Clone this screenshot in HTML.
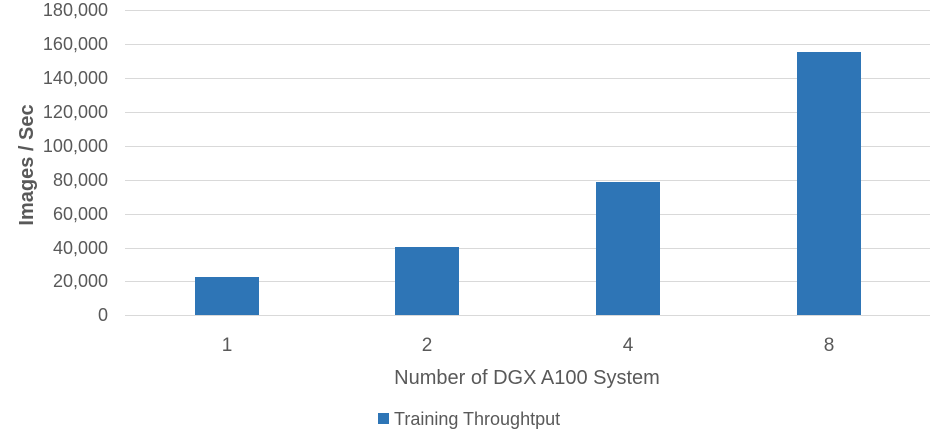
<!DOCTYPE html>
<html><head><style>body{margin:0;background:#fff}</style></head><body>
<svg width="936" height="440" xmlns="http://www.w3.org/2000/svg" font-family="'Liberation Sans', sans-serif" fill="#595959">
<g stroke="#d9d9d9" stroke-width="1">
<line x1="125" x2="930" y1="10.5" y2="10.5"/><line x1="125" x2="930" y1="44.5" y2="44.5"/>
<line x1="125" x2="930" y1="78.5" y2="78.5"/><line x1="125" x2="930" y1="112.5" y2="112.5"/>
<line x1="125" x2="930" y1="146.5" y2="146.5"/><line x1="125" x2="930" y1="180.5" y2="180.5"/>
<line x1="125" x2="930" y1="214.5" y2="214.5"/><line x1="125" x2="930" y1="248.5" y2="248.5"/>
<line x1="125" x2="930" y1="281.5" y2="281.5"/><line x1="125" x2="930" y1="315.5" y2="315.5"/>
</g>
<g fill="#2e75b6">
<rect x="195" y="277" width="64" height="38"/>
<rect x="395" y="247" width="64" height="68"/>
<rect x="596" y="182" width="64" height="133"/>
<rect x="797" y="52" width="64" height="263"/>
</g>
<g font-size="18" text-anchor="end">
<text x="108" y="16">180,000</text><text x="108" y="50">160,000</text>
<text x="108" y="84">140,000</text><text x="108" y="118">120,000</text>
<text x="108" y="152">100,000</text><text x="108" y="186">80,000</text>
<text x="108" y="220">60,000</text><text x="108" y="254">40,000</text>
<text x="108" y="287">20,000</text><text x="108" y="321">0</text>
</g>
<g font-size="19" text-anchor="middle">
<text x="227" y="351">1</text><text x="427" y="351">2</text>
<text x="628" y="351">4</text><text x="829" y="351">8</text>
<text x="527" y="384" font-size="20">Number of DGX A100 System</text>
</g>
<text transform="translate(33,165) rotate(-90)" font-size="20" font-weight="bold" text-anchor="middle">Images / Sec</text>
<rect x="378" y="413" width="11" height="11" fill="#2e75b6"/>
<text x="394" y="425" font-size="18">Training Throughtput</text>
</svg>
</body></html>
